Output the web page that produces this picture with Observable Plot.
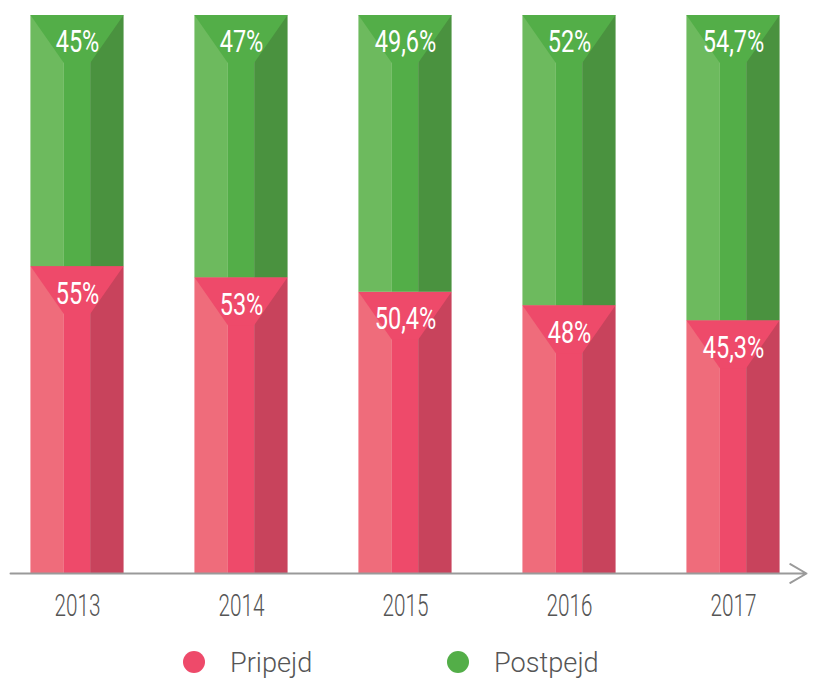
<!DOCTYPE html>
<html><head><meta charset="utf-8">
<script src="https://cdn.jsdelivr.net/npm/d3@7"></script>
<script src="https://cdn.jsdelivr.net/npm/@observablehq/plot@0.6"></script>
<style>
body{margin:0;background:#fff;font-family:Roboto,"DejaVu Sans Condensed",sans-serif;}
#chart svg{display:block;}
#legend{position:relative;height:45px;width:813px;}
.item{position:absolute;top:0;height:54px;display:flex;align-items:center;font-size:28px;color:#555;font-weight:300;}
.dot{width:22px;height:22px;border-radius:50%;margin-right:25px;}
.lbl{display:inline-block;transform:scaleX(0.97);transform-origin:left center;}
</style></head><body>
<div id="chart"></div>
<div id="legend"></div>
<script>
const years = [2013, 2014, 2015, 2016, 2017];
const prepaid = [55, 53, 50.4, 48, 45.3];
const postpaid = [45, 47, 49.6, 52, 54.7];
const seriesNames = ["Pripejd", "Postpejd"];
const seriesColors = {
  Pripejd: ["#ef6c7b", "#ee4a6a", "#c8435c"],
  Postpejd: ["#6dba5e", "#53ae48", "#4a923f"]
};

const HB = 0.284, HM = 0.08, D = 8.6;
const segs = [];
years.forEach((yr, i) => {
  segs.push({year: yr, series: "Pripejd", value: prepaid[i], y1: 0, y2: prepaid[i]});
  segs.push({year: yr, series: "Postpejd", value: postpaid[i], y1: prepaid[i], y2: 100});
});
const funnel = [];
segs.forEach((s, k) => {
  const t = s.y2;
  funnel.push({k, series: s.series, x: s.year - HB, lo: t, hi: t});
  funnel.push({k, series: s.series, x: s.year - HM, lo: t - D, hi: t});
  funnel.push({k, series: s.series, x: s.year + HM, lo: t - D, hi: t});
  funnel.push({k, series: s.series, x: s.year + HB, lo: t, hi: t});
});
const fmt = v => String(v).replace(".", ",") + "%";

const marks = [];
seriesNames.forEach(name => {
  const d = segs.filter(s => s.series === name);
  const c = seriesColors[name];
  marks.push(Plot.rect(d, {x1: s => s.year - HB, x2: s => s.year - HM, y1: "y1", y2: "y2", fill: c[0]}));
  marks.push(Plot.rect(d, {x1: s => s.year - HM, x2: s => s.year + HM, y1: "y1", y2: "y2", fill: c[1]}));
  marks.push(Plot.rect(d, {x1: s => s.year + HM, x2: s => s.year + HB, y1: "y1", y2: "y2", fill: c[2]}));
  marks.push(Plot.areaY(funnel.filter(f => f.series === name), {x: "x", y1: "lo", y2: "hi", z: "k", fill: c[1]}));
});
marks.push(Plot.text(segs, {x: "year", y: "y2", text: s => fmt(s.value), dy: 27, fill: "white", fontSize: 31, fontWeight: 400}));
marks.push(Plot.arrow([{a: 2012.5915, b: 2017.445}], {x1: "a", x2: "b", y1: () => 0, y2: () => 0, stroke: "#9a9a9a", strokeWidth: 2, headLength: 14, bend: 0}));

const chart = Plot.plot({
  width: 813, height: 635,
  marginTop: 15, marginBottom: 62, marginLeft: 10, marginRight: 8,
  style: {fontSize: "31px", color: "#555", background: "white", fontFamily: 'Roboto,"DejaVu Sans Condensed",sans-serif', fontWeight: 300},
  x: {domain: [2012.5915, 2017.439], ticks: years, tickFormat: d => String(d), tickSize: 0, tickPadding: 20, label: null},
  y: {domain: [0, 100], axis: null},
  marks
});
document.getElementById("chart").appendChild(chart);

chart.querySelectorAll("text").forEach(t => {
  const txt = t.textContent;
  if (!txt) return;
  const w = t.getComputedTextLength();
  const k = txt.includes("%") ? 0.76 : 0.67;
  t.setAttribute("textLength", (w * k).toFixed(1));
  t.setAttribute("lengthAdjust", "spacingAndGlyphs");
});

const legend = document.getElementById("legend");
const legendX = [183, 447];
seriesNames.forEach((name, i) => {
  const it = document.createElement("div");
  it.className = "item";
  it.style.left = legendX[i] + "px";
  const dot = document.createElement("div");
  dot.className = "dot";
  dot.style.background = seriesColors[name][1];
  it.appendChild(dot);
  const sp = document.createElement("span");
  sp.className = "lbl";
  sp.textContent = name;
  it.appendChild(sp);
  legend.appendChild(it);
});
</script></body></html>
